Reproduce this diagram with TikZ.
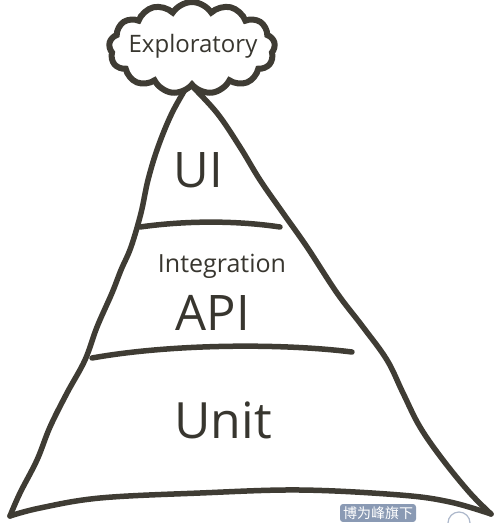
\documentclass[tikz,border=0pt]{standalone}
\usepackage{fontspec}
\setmainfont{Open Sans}
\newfontfamily\cjkfont{Noto Sans CJK SC}
\usetikzlibrary{shapes.symbols}
\definecolor{ink}{HTML}{3F3C34}
\definecolor{txt}{HTML}{38362F}
\definecolor{wm}{HTML}{8A9AB4}
\tikzset{
  sketch/.style={draw=ink, line width=5.5pt, line cap=round, line join=round},
  label/.style={text=txt, inner sep=0pt, anchor=center},
}
\begin{document}
\begin{tikzpicture}[x=1pt,y=-1pt]
\useasboundingbox (0,0) rectangle (496,523);
% pyramid sides
\draw[sketch] plot[smooth, tension=0.6] coordinates {(189,83) (172,113) (158,147) (148,180) (141,213) (131,247) (121,270) (112,293) (97,327) (85,360) (67,393) (50,427) (37,460) (20,493) (10,516)};
\draw[sketch] plot[smooth, tension=0.6] coordinates {(190,84) (217,113) (240,147) (260,180) (283,213) (307,247) (337,293) (363,327) (387,360) (403,393) (420,427) (443,460) (470,493) (491,514)};
\draw[sketch] plot[smooth, tension=0.6] coordinates {(491,514) (450,502) (400,495) (300,490) (200,493) (100,498) (40,508) (10,516)};
% layer separators
\draw[sketch] (140,227) .. controls (190,220) and (240,221) .. (280,227);
\draw[sketch] (92,358) .. controls (170,344) and (280,343) .. (352,352);
% cloud
\node[cloud, draw=ink, line width=6pt, cloud puffs=13, cloud puff arc=115, aspect=1.9,
      minimum width=166pt, minimum height=92pt, fill=white, inner sep=0pt] (cloud) at (192,48) {};
\node[label, font=\fontsize{24}{24}\selectfont] (expl) at (193,46) {Exploratory};
% layer labels
\node[label, font=\fontsize{49}{49}\selectfont] (ui) at (198,170) {UI};
\node[label, font=\fontsize{25}{25}\selectfont] (integ) at (222,266) {Integration};
\node[label, font=\fontsize{49}{49}\selectfont] (api) at (213,313) {API};
\node[label, font=\fontsize{50}{50}\selectfont] (unit) at (223,420) {Unit};
% watermark
\node[fill=wm, rounded corners=3pt, text=white, inner xsep=3pt, inner ysep=2.5pt,
      font=\cjkfont\fontsize{14}{14}\selectfont] (wmark) at (378,513) {博为峰旗下};
\draw[draw=wm!70, line width=1.2pt, fill=white] (459,523) circle[radius=11];
\end{tikzpicture}
\end{document}
